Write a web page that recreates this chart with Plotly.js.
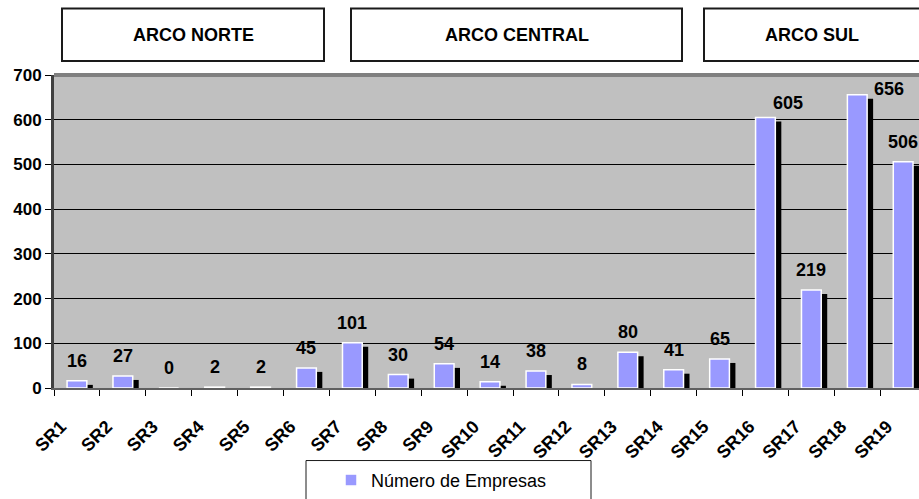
<!DOCTYPE html>
<html>
<head>
<meta charset="utf-8">
<script src="https://cdn.plot.ly/plotly-3.0.1.min.js"></script>
<style>
  html, body { margin: 0; padding: 0; background: #ffffff; overflow: hidden; }
  #chart { width: 919px; height: 499px; }
</style>
</head>
<body>
<div id="chart"></div>
<script>
// Sub-regions and number of companies in each
const categories = ['SR1','SR2','SR3','SR4','SR5','SR6','SR7','SR8','SR9','SR10',
                    'SR11','SR12','SR13','SR14','SR15','SR16','SR17','SR18','SR19'];
const empresas = [16, 27, 0, 2, 2, 45, 101, 30, 54, 14, 38, 8, 80, 41, 65, 605, 219, 656, 506];
const seriesName = 'Número de Empresas';

// Group headings over the chart
const arcoLabels = ['ARCO NORTE', 'ARCO CENTRAL', 'ARCO SUL'];

// Geometry of the plotting area (pixels)
const W = 919, H = 499;
const M = { l: 54, r: 0, t: 75, b: 109 };
const plotW = W - M.l - M.r;
const plotH = H - M.t - M.b;
const catPx = 45.9;                       // width of one category slot
const xMax = -0.5 + plotW / catPx;        // last slot runs past the right edge

const px2x = px => (px - M.l) / plotW;    // pixel -> paper x
const px2y = py => (H - M.b - py) / plotH; // pixel -> paper y

const FONT = 'Arial, "Liberation Sans", sans-serif';
const barW = 0.43;
const shadowDx = 6 / catPx;

// Black drop shadow behind each bar
const shadow = {
  type: 'bar', x: categories, y: empresas,
  base: -9, width: barW, offset: -barW / 2 + shadowDx,
  marker: { color: '#000000', line: { width: 0 } },
  showlegend: false, hoverinfo: 'skip'
};

const bars = {
  type: 'bar', x: categories, y: empresas, name: seriesName,
  width: barW, offset: -barW / 2,
  marker: { color: '#9999FF', line: { color: '#FFFFFF', width: 1.5 } }
};

// Value labels; the two tallest are nudged right to clear the top edge
const labelNudge = { SR16: { dx: 23, dy: 14 }, SR18: { dx: 32, dy: 6 } };
const annotations = categories.map((c, i) => {
  const n = labelNudge[c] || { dx: 0, dy: 20 };
  return {
    x: c, y: empresas[i], xref: 'x', yref: 'y',
    text: String(empresas[i]), showarrow: false,
    xanchor: 'center', yanchor: 'middle',
    xshift: n.dx, yshift: n.dy,
    font: { family: FONT, size: 18, color: '#000000', weight: 'bold' }
  };
});

// Heading boxes (pixel extents)
const boxPx = [[62, 324], [351, 682], [704, 921]];
const boxTop = 8, boxBot = 61;
const shapes = [];
boxPx.forEach(([a, b], i) => {
  shapes.push({
    type: 'rect', xref: 'paper', yref: 'paper',
    x0: px2x(a), x1: px2x(b), y0: px2y(boxBot), y1: px2y(boxTop),
    line: { color: '#1a1a1a', width: 2 }, fillcolor: '#ffffff', layer: 'above'
  });
  annotations.push({
    xref: 'paper', yref: 'paper',
    x: px2x((a + Math.min(b, 920)) / 2), y: px2y((boxTop + boxBot) / 2),
    text: arcoLabels[i], showarrow: false, xanchor: 'center', yanchor: 'middle',
    font: { family: FONT, size: 18, color: '#000000', weight: 'bold' }
  });
});

// Heavy grey rim along the top of the plot area
shapes.push({
  type: 'line', xref: 'paper', yref: 'paper', x0: 0, x1: 1, y0: 1, y1: 1,
  line: { color: '#808080', width: 4 }, layer: 'above'
});

// Legend frame
shapes.push({
  type: 'rect', xref: 'paper', yref: 'paper',
  x0: px2x(306), x1: px2x(591), y0: px2y(506), y1: px2y(463),
  line: { color: '#1a1a1a', width: 1 }, fillcolor: 'rgba(0,0,0,0)'
});

const layout = {
  width: W, height: H,
  margin: M,
  paper_bgcolor: '#ffffff',
  plot_bgcolor: '#C0C0C0',
  barmode: 'overlay',
  showlegend: true,
  legend: {
    orientation: 'h', xref: 'paper', yref: 'paper',
    x: px2x(331), y: px2y(483), xanchor: 'left', yanchor: 'middle',
    bgcolor: 'rgba(0,0,0,0)', borderwidth: 0,
    font: { family: FONT, size: 18, color: '#000000' }
  },
  xaxis: {
    type: 'category', range: [-0.5, xMax],
    showline: true, linecolor: '#606060', linewidth: 2,
    ticks: 'outside', tickson: 'boundaries', ticklen: 6, tickcolor: '#000000', tickwidth: 1,
    tickangle: -45, showgrid: false, zeroline: false,
    ticklabelstandoff: 19, ticklabelshift: -16,
    tickfont: { family: FONT, size: 18, color: '#000000', weight: 'bold' },
    fixedrange: true
  },
  yaxis: {
    range: [0, 700], tickvals: [0, 100, 200, 300, 400, 500, 600, 700],
    showline: true, linecolor: '#404040', linewidth: 3,
    ticks: 'outside', ticklen: 6, tickcolor: '#000000', tickwidth: 1,
    showgrid: true, gridcolor: '#000000', gridwidth: 1, zeroline: false,
    tickfont: { family: FONT, size: 17, color: '#000000', weight: 'bold' },
    fixedrange: true
  },
  annotations: annotations,
  shapes: shapes
};

Plotly.newPlot('chart', [shadow, bars], layout, { displayModeBar: false, staticPlot: true });
</script>
</body>
</html>
